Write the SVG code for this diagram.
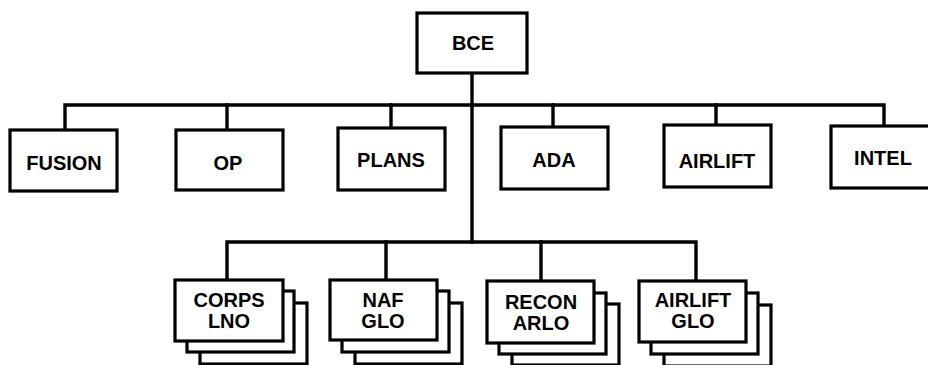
<svg xmlns="http://www.w3.org/2000/svg" width="928" height="365" viewBox="0 0 928 365">
<style>
.box{fill:#fff;stroke:#000;stroke-width:3.2}
.ln{fill:none;stroke:#000;stroke-width:3.4;stroke-linecap:square}
.t{font-family:"Liberation Sans",Arial,sans-serif;font-weight:bold;font-size:20px;text-anchor:middle;fill:#000}
</style>
<rect width="928" height="365" fill="#fff"/>
<g id="connectors">
<path class="ln" d="M472,73 V242"/>
<path class="ln" d="M65,129 V105 H884 V125"/>
<path class="ln" d="M227,105 V129 M391,105 V127 M553,105 V126 M716,105 V124"/>
<path class="ln" d="M227,279 V242 H696 V280"/>
<path class="ln" d="M386,242 V279 M541,242 V280"/>
</g>
<g id="bce"><rect class="box" x="417" y="13" width="110" height="60"/><text class="t" x="473" y="50">BCE</text></g>
<g id="fusion"><rect class="box" x="10" y="130" width="107" height="61"/><text class="t" x="64" y="170">FUSION</text></g>
<g id="op"><rect class="box" x="176" y="130" width="107" height="60"/><text class="t" x="228" y="170">OP</text></g>
<g id="plans"><rect class="box" x="338" y="128" width="107" height="62"/><text class="t" x="391" y="167">PLANS</text></g>
<g id="ada"><rect class="box" x="501" y="127" width="107" height="62"/><text class="t" x="554" y="167">ADA</text></g>
<g id="airlift"><rect class="box" x="664" y="125" width="107" height="62"/><text class="t" x="717" y="168">AIRLIFT</text></g>
<g id="intel"><rect class="box" x="831" y="126" width="107" height="62"/><text class="t" x="883" y="165">INTEL</text></g>
<g id="corps-lno">
<rect class="box" x="200" y="303" width="107" height="61"/>
<rect class="box" x="187" y="291" width="107" height="61"/>
<rect class="box" x="175" y="280" width="108" height="61"/>
<text class="t" x="229" y="307">CORPS</text><text class="t" x="229" y="328">LNO</text>
</g>
<g id="naf-glo">
<rect class="box" x="355" y="303" width="107" height="61"/>
<rect class="box" x="342" y="291" width="107" height="61"/>
<rect class="box" x="330" y="280" width="107" height="60"/>
<text class="t" x="383" y="307">NAF</text><text class="t" x="383" y="328">GLO</text>
</g>
<g id="recon-arlo">
<rect class="box" x="512" y="304" width="107" height="61"/>
<rect class="box" x="499" y="293" width="107" height="61"/>
<rect class="box" x="487" y="281" width="107" height="62"/>
<text class="t" x="541" y="309">RECON</text><text class="t" x="541" y="330">ARLO</text>
</g>
<g id="airlift-glo">
<rect class="box" x="664" y="305" width="107" height="61"/>
<rect class="box" x="651" y="293" width="107" height="61"/>
<rect class="box" x="639" y="281" width="107" height="61"/>
<text class="t" x="693" y="307">AIRLIFT</text><text class="t" x="693" y="328">GLO</text>
</g>
</svg>
